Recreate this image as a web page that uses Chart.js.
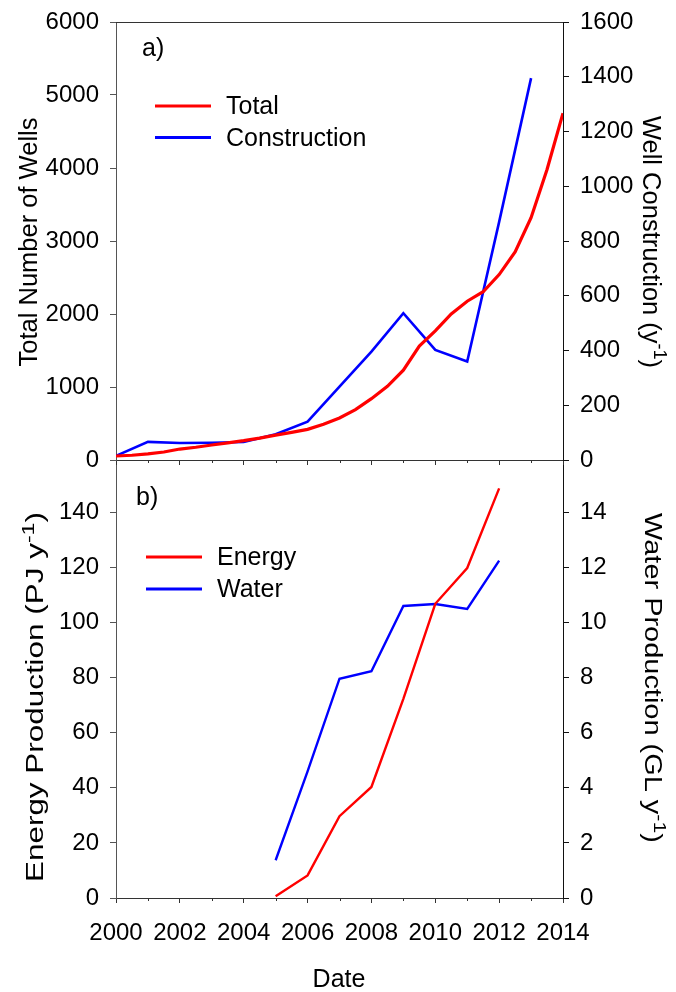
<!DOCTYPE html>
<html>
<head>
<meta charset="utf-8">
<script src="https://cdn.jsdelivr.net/npm/chart.js@4.4.0/dist/chart.umd.min.js"></script>
<style>
  html, body { margin: 0; padding: 0; background: #ffffff; }
  #wrap { position: relative; width: 676px; height: 992px; overflow: hidden; background: #fff; }
  canvas { position: absolute; left: 0; }
  #cTop { top: 0; }
  #cBot { top: 450px; }
</style>
</head>
<body>
<div id="wrap">
  <canvas id="cBot" width="676" height="542"></canvas>
  <canvas id="cTop" width="676" height="480"></canvas>
</div>
<script>
// ---------- Data ----------
const totalYears = [2000, 2000.5, 2001, 2001.5, 2002, 2002.5, 2003, 2003.5, 2004, 2004.5,
  2005, 2005.5, 2006, 2006.5, 2007, 2007.5, 2008, 2008.5, 2009, 2009.5,
  2010, 2010.5, 2011, 2011.5, 2012, 2012.5, 2013, 2013.5, 2014];
const totalWells = [55, 65, 85, 110, 150, 175, 205, 235, 265, 300,
  340, 378, 420, 490, 575, 690, 840, 1010, 1230, 1560,
  1770, 2000, 2175, 2305, 2540, 2850, 3320, 3980, 4750];

const constructionYears = [2000, 2001, 2002, 2003, 2004, 2005, 2006, 2007, 2008, 2009, 2010, 2011, 2012, 2013];
const constructionPerYear = [15, 66, 62, 63, 66, 94, 140, 268, 396, 536, 402, 360, 870, 1395];

const productionYears = [2005, 2006, 2007, 2008, 2009, 2010, 2011, 2012];
const energyPJ = [0.6, 8.2, 29.7, 40.3, 72.3, 106.8, 119.8, 148.7];
const waterGL = [1.37, 4.6, 7.96, 8.23, 10.6, 10.67, 10.49, 12.25];

const legendTop = ['Total', 'Construction'];
const legendBottom = ['Energy', 'Water'];
const xLabelTitle = 'Date';

// ---------- Helpers ----------
const FONT = '"Liberation Sans", Arial, Helvetica, sans-serif';
const pts = (xs, ys) => xs.map((x, i) => ({ x: x, y: ys[i] }));

function drawRich(ctx, parts, cx, cy, angle, size, len) {
  ctx.save();
  ctx.translate(cx, cy);
  ctx.rotate(angle);
  ctx.fillStyle = '#000';
  ctx.textBaseline = 'alphabetic';
  ctx.textAlign = 'left';
  let total = 0;
  parts.forEach(p => {
    ctx.font = (p.sup ? Math.round(size * 0.72) : size) + 'px ' + FONT;
    p.w = ctx.measureText(p.t).width;
    total += p.w;
  });
  if (len) ctx.scale(len / total, 1);
  let x = -total / 2;
  const base = size * 0.36;
  parts.forEach(p => {
    ctx.font = (p.sup ? Math.round(size * 0.72) : size) + 'px ' + FONT;
    ctx.fillText(p.t, x, p.sup ? base - size * 0.42 : base);
    x += p.w;
  });
  ctx.restore();
}

const decor = {
  id: 'decor',
  afterDraw(chart, args, o) {
    const ctx = chart.ctx;
    const a = chart.chartArea;
    const xs = chart.scales.x;
    ctx.save();
    // top border
    ctx.strokeStyle = '#333';
    ctx.lineWidth = 1;
    ctx.beginPath();
    ctx.moveTo(a.left, Math.round(a.top) + 0.5);
    ctx.lineTo(a.right, Math.round(a.top) + 0.5);
    ctx.stroke();
    // minor ticks (odd years)
    ctx.beginPath();
    for (let yr = 2001; yr < 2014; yr += 2) {
      const px = Math.round(xs.getPixelForValue(yr)) + 0.5;
      ctx.moveTo(px, a.bottom);
      ctx.lineTo(px, a.bottom + 3);
    }
    ctx.stroke();
    // panel label
    ctx.fillStyle = '#000';
    ctx.font = '25px ' + FONT;
    ctx.textAlign = 'left';
    ctx.textBaseline = 'alphabetic';
    ctx.fillText(o.panel, o.panelX, o.panelY - o.off);
    // legend
    o.legend.forEach((it, i) => {
      ctx.strokeStyle = it.color;
      ctx.lineWidth = 3;
      ctx.beginPath();
      ctx.moveTo(o.legX1, it.ly - o.off);
      ctx.lineTo(o.legX2, it.ly - o.off);
      ctx.stroke();
      ctx.fillStyle = '#000';
      ctx.font = '25px ' + FONT;
      ctx.fillText(it.text, o.legTx, it.ty - o.off);
    });
    // axis titles
    o.titles.forEach(t => drawRich(ctx, t.parts, t.x, t.y - o.off, t.angle, t.size, t.len));
    if (o.date) {
      ctx.fillStyle = '#000';
      ctx.font = '25px ' + FONT;
      ctx.textAlign = 'center';
      ctx.textBaseline = 'middle';
      ctx.fillText(xLabelTitle, o.date.x, o.date.y - o.off);
    }
    ctx.restore();
  }
};

const tickFont = { family: FONT, size: 24 };
const xGridColor = c => (c.tick && Math.abs(c.tick.value % 2) > 0.001) ? 'rgba(0,0,0,0)' : '#333';

function yAxis(pos, min, max, step, showMax, width, color) {
  return {
    type: 'linear', position: pos, min: min, max: max,
    afterBuildTicks: s => { s.ticks = s.ticks.filter(t => t.value <= showMax + 1e-9 && Math.abs(t.value / step - Math.round(t.value / step)) < 1e-6); },
    ticks: { stepSize: step, color: '#000', font: tickFont, padding: 11, callback: v => String(v) },
    grid: { drawOnChartArea: false, tickLength: 6, color: color, lineWidth: 1 },
    border: { display: true, color: color, width: 1 },
    afterFit: s => { s.width = width; s.paddingTop = 0; s.paddingBottom = 0; }
  };
}

// ---------- Top panel ----------
new Chart(document.getElementById('cTop'), {
  type: 'line',
  data: {
    datasets: [
      { label: legendTop[0], data: pts(totalYears, totalWells), borderColor: '#ff0000', borderWidth: 3.2,
        pointRadius: 0, yAxisID: 'y', tension: 0, fill: false },
      { label: legendTop[1], data: pts(constructionYears, constructionPerYear), borderColor: '#0000ff', borderWidth: 2.6,
        pointRadius: 0, yAxisID: 'y1', tension: 0, fill: false }
    ]
  },
  options: {
    responsive: false, animation: false, devicePixelRatio: 1,
    layout: { padding: { top: 22, left: 0, right: 0, bottom: 0 } },
    plugins: {
      legend: { display: false }, tooltip: { enabled: false },
      decor: {
        off: 0, panel: 'a)', panelX: 142, panelY: 56,
        legX1: 155, legX2: 211, legTx: 226,
        legend: [
          { text: legendTop[0], color: '#ff0000', ly: 106, ty: 114 },
          { text: legendTop[1], color: '#0000ff', ly: 137.5, ty: 146 }
        ],
        titles: [
          { parts: [{ t: 'Total Number of Wells' }], x: 28, y: 242, angle: -Math.PI / 2, size: 25.5 },
          { parts: [{ t: 'Well Construction (y' }, { t: '-1', sup: true }, { t: ')' }], x: 652, y: 242, angle: Math.PI / 2, size: 25.5 }
        ]
      }
    },
    scales: {
      x: {
        type: 'linear', min: 2000, max: 2014,
        ticks: { stepSize: 1, display: false },
        grid: { drawOnChartArea: false, tickLength: 5, color: xGridColor },
        border: { display: true, color: '#333', width: 1 },
        afterFit: s => { s.height = 20; s.paddingLeft = 0; s.paddingRight = 0; }
      },
      y: yAxis('left', 0, 6000, 1000, 6000, 116, '#555'),
      y1: yAxis('right', 0, 1600, 200, 1600, 113, '#111')
    }
  },
  plugins: [decor]
});

// ---------- Bottom panel ----------
new Chart(document.getElementById('cBot'), {
  type: 'line',
  data: {
    datasets: [
      { label: legendBottom[0], data: pts(productionYears, energyPJ), borderColor: '#ff0000', borderWidth: 2.4,
        pointRadius: 0, yAxisID: 'y', tension: 0, fill: false },
      { label: legendBottom[1], data: pts(productionYears, waterGL), borderColor: '#0000ff', borderWidth: 2.4,
        pointRadius: 0, yAxisID: 'y1', tension: 0, fill: false }
    ]
  },
  options: {
    responsive: false, animation: false, devicePixelRatio: 1,
    layout: { padding: { top: 10, left: 0, right: 0, bottom: 0 } },
    plugins: {
      legend: { display: false }, tooltip: { enabled: false },
      decor: {
        off: 450, panel: 'b)', panelX: 136, panelY: 505,
        legX1: 146, legX2: 202, legTx: 217,
        legend: [
          { text: legendBottom[0], color: '#ff0000', ly: 557, ty: 565 },
          { text: legendBottom[1], color: '#0000ff', ly: 589, ty: 597 }
        ],
        titles: [
          { parts: [{ t: 'Energy Production (PJ y' }, { t: '-1', sup: true }, { t: ')' }], x: 35, y: 697, angle: -Math.PI / 2, size: 23, len: 370 },
          { parts: [{ t: 'Water Production (GL y' }, { t: '-1', sup: true }, { t: ')' }], x: 653, y: 678, angle: Math.PI / 2, size: 23, len: 330 }
        ],
        date: { x: 339, y: 980 }
      }
    },
    scales: {
      x: {
        type: 'linear', min: 2000, max: 2014,
        ticks: { stepSize: 1, color: '#000', font: tickFont, padding: 16, maxRotation: 0, autoSkip: false,
          callback: v => (Math.round(v) % 2 === 0 ? String(v) : '') },
        grid: { drawOnChartArea: false, tickLength: 5, color: xGridColor },
        border: { display: true, color: '#333', width: 1 },
        afterFit: s => { s.height = 94; s.paddingLeft = 0; s.paddingRight = 0; }
      },
      y: yAxis('left', 0, 159, 20, 140, 116, '#555'),
      y1: yAxis('right', 0, 15.9, 2, 14, 113, '#111')
    }
  },
  plugins: [decor]
});
</script>
</body>
</html>
